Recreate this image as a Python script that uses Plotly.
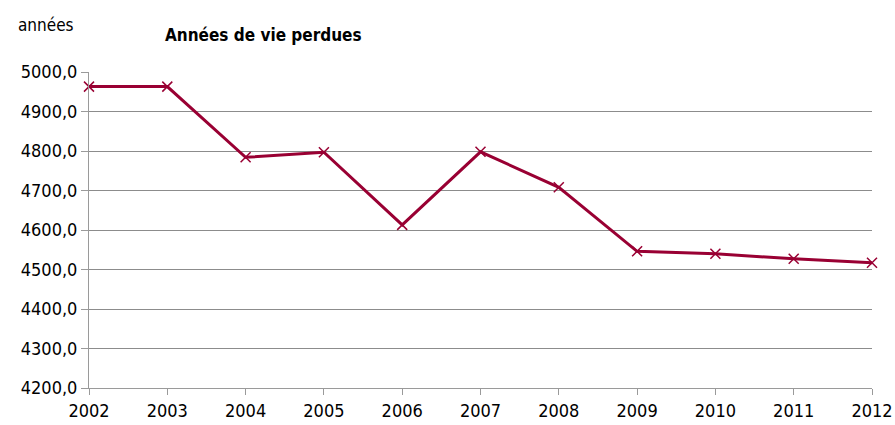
import plotly.graph_objects as go

years = ["2002", "2003", "2004", "2005", "2006", "2007", "2008", "2009", "2010", "2011", "2012"]
values = [4963, 4963, 4784, 4797, 4613, 4798, 4708, 4546, 4540, 4527, 4517]
y_ticks = [4200, 4300, 4400, 4500, 4600, 4700, 4800, 4900, 5000]
y_tick_labels = ["4200,0", "4300,0", "4400,0", "4500,0", "4600,0", "4700,0", "4800,0", "4900,0", "5000,0"]

FONT = "DejaVu Sans Condensed, Liberation Sans Narrow, Arial Narrow, Liberation Sans, Arial, sans-serif"
COLOR = "#990033"

fig = go.Figure()
fig.add_trace(go.Scatter(
    x=list(range(len(years))), y=values, mode="lines+markers",
    line=dict(color=COLOR, width=3),
    marker=dict(symbol="x-thin", size=10, line=dict(color=COLOR, width=1.5)),
    showlegend=False, hoverinfo="skip", cliponaxis=False
))

fig.update_layout(
    width=895, height=425,
    margin=dict(l=89, r=23, t=72, b=37, autoexpand=False),
    paper_bgcolor="white", plot_bgcolor="white",
    font=dict(family=FONT, size=18, color="#000000"),
    xaxis=dict(
        range=[0, len(years) - 1], automargin=False,
        tickmode="array", tickvals=list(range(len(years))), ticktext=years,
        showgrid=False, zeroline=False,
        showline=True, linecolor="#9a9a9a", linewidth=1,
        ticks="outside", ticklen=6, tickcolor="#9a9a9a",
        tickfont=dict(family=FONT, size=18),
    ),
    yaxis=dict(
        range=[4200, 5000], automargin=False,
        tickmode="array", tickvals=y_ticks, ticktext=y_tick_labels,
        showgrid=True, gridcolor="#8c8c8c", gridwidth=1,
        zeroline=False,
        showline=True, linecolor="#9a9a9a", linewidth=1,
        ticks="outside", ticklen=7, tickcolor="#9a9a9a",
        tickfont=dict(family=FONT, size=18),
    ),
    annotations=[
        dict(text="années", xref="paper", yref="paper", x=-0.093, y=1.149,
             xanchor="left", yanchor="middle", showarrow=False,
             font=dict(family=FONT, size=17)),
        dict(text="<b>Années de vie perdues</b>", xref="paper", yref="paper",
             x=0.0945, y=1.117, xanchor="left", yanchor="middle", showarrow=False,
             font=dict(family=FONT, size=17)),
    ],
)

fig.write_html(
    "out.html",
    config={"displayModeBar": False},
    post_script="document.body.style.margin='0';document.body.style.overflow='hidden';",
)
